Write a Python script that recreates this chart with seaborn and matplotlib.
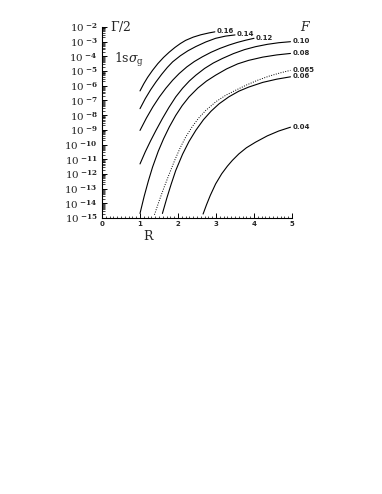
import numpy as np
import pandas as pd
import seaborn as sns
import matplotlib
matplotlib.use("Agg")
import matplotlib.pyplot as plt
from matplotlib.ticker import LogLocator, MultipleLocator, FixedLocator, NullFormatter

# ---- data (R, log10(Gamma/2)) ----
F_labels = ["0.16", "0.14", "0.12", "0.10", "0.08", "0.065", "0.06", "0.04"]

R_016 = [1.0, 1.1, 1.2, 1.33, 1.47, 1.62, 1.77, 1.92, 2.06, 2.2, 2.4, 2.6, 2.82, 2.97]
lg_016 = [-6.35, -5.86, -5.43, -4.95, -4.49, -4.07, -3.71, -3.39, -3.13, -2.91,
          -2.69, -2.53, -2.40, -2.33]

R_014 = [1.0, 1.14, 1.28, 1.42, 1.57, 1.72, 1.86, 2.06, 2.26, 2.47, 2.73, 2.99, 3.25, 3.5]
lg_014 = [-7.56, -6.87, -6.27, -5.74, -5.22, -4.75, -4.37, -3.96, -3.62, -3.33,
          -3.02, -2.77, -2.62, -2.54]

R_012 = [1.0, 1.17, 1.34, 1.51, 1.68, 1.86, 2.03, 2.23, 2.43, 2.64, 2.87, 3.1,
         3.34, 3.56, 3.78, 4.0]
lg_012 = [-9.04, -8.19, -7.43, -6.76, -6.17, -5.62, -5.17, -4.72, -4.35, -4.03,
          -3.72, -3.46, -3.23, -3.05, -2.90, -2.77]

R_010 = [1.0, 1.14, 1.28, 1.42, 1.59, 1.76, 1.94, 2.12, 2.3, 2.47, 2.7, 2.93, 3.17,
         3.46, 3.75, 4.04, 4.35, 4.65, 4.96]
lg_010 = [-11.32, -10.49, -9.74, -9.04, -8.23, -7.48, -6.76, -6.17, -5.67, -5.28,
          -4.82, -4.45, -4.14, -3.81, -3.54, -3.34, -3.18, -3.07, -3.0]

R_008 = [1.0, 1.11, 1.22, 1.33, 1.48, 1.62, 1.77, 1.94, 2.11, 2.29, 2.52, 2.75, 2.99,
         3.28, 3.57, 3.86, 4.23, 4.6, 4.96]
lg_008 = [-14.69, -13.52, -12.48, -11.54, -10.46, -9.61, -8.81, -8.02, -7.35, -6.76,
          -6.16, -5.68, -5.28, -4.85, -4.51, -4.27, -4.05, -3.90, -3.8]

R_0065 = [1.38, 1.51, 1.64, 1.77, 1.91, 2.06, 2.2, 2.38, 2.55, 2.73, 3.0, 3.26, 3.52,
          3.81, 4.1, 4.39, 4.68, 4.96]
lg_0065 = [-14.78, -13.79, -12.87, -12.0, -11.09, -10.21, -9.50, -8.76, -8.18, -7.68,
           -7.08, -6.64, -6.30, -5.94, -5.62, -5.35, -5.13, -4.95]

R_006 = [1.59, 1.71, 1.82, 1.94, 2.12, 2.29, 2.47, 2.67, 2.87, 3.08, 3.34, 3.6, 3.86,
         4.23, 4.6, 4.96]
lg_006 = [-14.69, -13.61, -12.70, -11.77, -10.66, -9.79, -9.03, -8.31, -7.73, -7.23,
          -6.75, -6.37, -6.09, -5.77, -5.55, -5.39]

R_004 = [2.66, 2.75, 2.85, 2.99, 3.15, 3.3, 3.43, 3.6, 3.8, 4.04, 4.35, 4.65, 4.96]
lg_004 = [-14.73, -14.10, -13.46, -12.68, -11.99, -11.47, -11.08, -10.64, -10.22,
          -9.84, -9.41, -9.08, -8.82]

curves_R = [R_016, R_014, R_012, R_010, R_008, R_0065, R_006, R_004]
curves_lg = [lg_016, lg_014, lg_012, lg_010, lg_008, lg_0065, lg_006, lg_004]
dotted = ["0.065"]

y_exps = list(range(-2, -16, -1))
x_ticks = [0, 1, 2, 3, 4, 5]

sns.set_style("ticks")
plt.rcParams["mathtext.fontset"] = "dejavuserif"

fig = plt.figure(figsize=(3.82, 4.94), dpi=100)
ax = fig.add_axes([102 / 382, 1 - 218 / 494, 190 / 382, 191 / 494])

for lab, Rs, lgs in zip(F_labels, curves_R, curves_lg):
    df = pd.DataFrame({"R": Rs, "G": 10.0 ** np.array(lgs)})
    ls = (0, (1, 1.5)) if lab in dotted else "-"
    lw = 0.7 if lab in dotted else 0.8
    sns.lineplot(data=df, x="R", y="G", ax=ax, color="black", lw=lw,
                 linestyle=ls, sort=False, estimator=None)
    ax.annotate(lab, xy=(Rs[-1], 10.0 ** lgs[-1]), xytext=(1.5, 0.5),
                textcoords="offset points", ha="left", va="center",
                fontsize=5, fontweight="bold", family="DejaVu Sans")

ax.set_yscale("log")
ax.set_xlim(0, 5)
ax.set_ylim(1e-15, 1e-2)
ax.set_xlabel("")
ax.set_ylabel("")

ax.yaxis.set_major_locator(FixedLocator([10.0 ** e for e in y_exps]))
ax.set_yticklabels([r"$10^{\ \mathbf{%d}}$" % e for e in y_exps], fontsize=7.5)
ax.yaxis.set_minor_locator(LogLocator(base=10, subs=np.arange(2, 10), numticks=50))
ax.yaxis.set_minor_formatter(NullFormatter())

ax.xaxis.set_major_locator(FixedLocator(x_ticks))
ax.set_xticklabels([str(t) for t in x_ticks], fontsize=5, fontweight="bold")
ax.xaxis.set_minor_locator(MultipleLocator(0.1))

ax.tick_params(axis="both", which="major", direction="in", length=3.5, width=0.7,
               color="black", pad=2)
ax.tick_params(axis="both", which="minor", direction="in", length=1.8, width=0.5,
               color="black")
ax.tick_params(axis="y", which="major", pad=3)

for s in ["top", "right"]:
    ax.spines[s].set_visible(False)
for s in ["left", "bottom"]:
    ax.spines[s].set_linewidth(0.8)
    ax.spines[s].set_color("black")

fig.text(110 / 382, 1 - 27 / 494, r"$\Gamma/2$", fontsize=9, va="center", ha="left")
fig.text(114 / 382, 1 - 60 / 494, r"$1\mathrm{s}\sigma_\mathrm{g}$", fontsize=9,
         va="center", ha="left")
fig.text(300 / 382, 1 - 27 / 494, r"$F$", fontsize=9, va="center", ha="left")
fig.text(148 / 382, 1 - 236 / 494, "R", fontsize=9, va="center", ha="center",
         family="DejaVu Serif")

fig.savefig("out.png", dpi=100, facecolor="white")
